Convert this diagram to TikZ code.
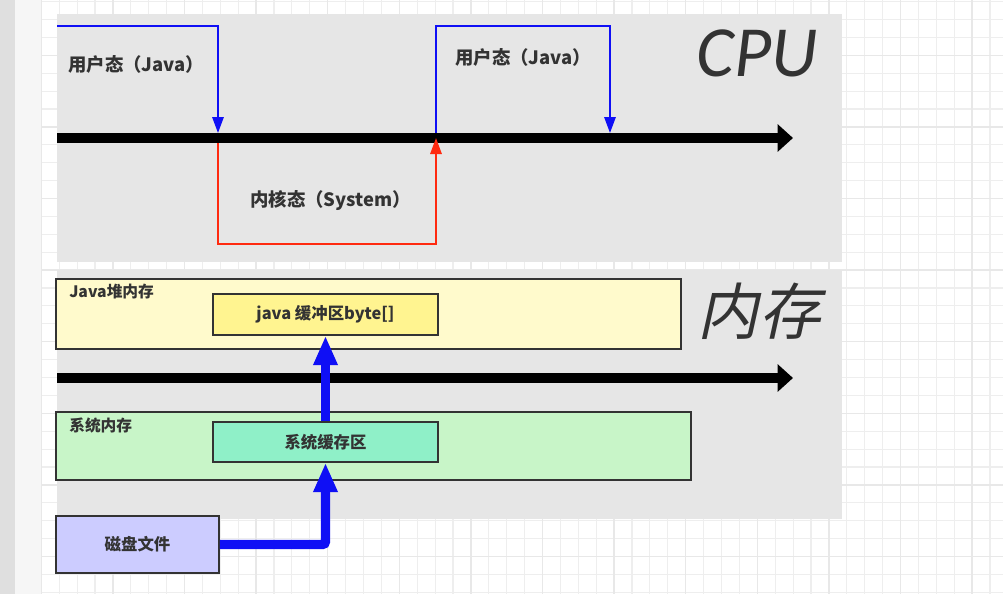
\documentclass[tikz,border=0pt]{standalone}
\usepackage{fontspec}
\setmainfont{Noto Sans CJK SC}
\newfontfamily\cpufont{Carlito}
\newfontfamily\memfont[FakeSlant=0.22]{Noto Sans CJK SC}
\usetikzlibrary{arrows.meta}
\definecolor{txt}{HTML}{333333}
\definecolor{panelgray}{HTML}{E6E6E6}
\definecolor{stripgray}{HTML}{DFDFDF}
\definecolor{stripwhite}{HTML}{F6F6F6}
\definecolor{gridminor}{HTML}{EEEEEE}
\definecolor{gridmajor}{HTML}{E8E8E8}
\definecolor{heapfill}{HTML}{FFFACC}
\definecolor{jbuffill}{HTML}{FFF490}
\definecolor{sysmemfill}{HTML}{C8F5C8}
\definecolor{sysbuffill}{HTML}{8FF0C8}
\definecolor{diskfill}{HTML}{CCCCFF}
\definecolor{userblue}{HTML}{0F0FF5}
\definecolor{kernred}{HTML}{FF2A10}
\definecolor{boxline}{HTML}{333333}
\tikzset{
  box/.style={draw=boxline, line width=1.2pt, inner sep=0pt, text=txt,
    font=\bfseries\fontsize{12.3}{14}\selectfont},
  cornerlabel/.style={anchor=west, inner sep=0pt, text=txt,
    font=\bfseries\fontsize{11.8}{14}\selectfont},
  statelabel/.style={anchor=west, inner sep=0pt, text=txt,
    font=\bfseries\fontsize{13.8}{16}\selectfont},
  timeaxis/.style={line width=7pt, black, -{Triangle[length=11.5pt,width=20pt]}},
  userpath/.style={line width=1.5pt, userblue, -{Triangle[length=12pt,width=8.5pt]}},
  kernpath/.style={line width=1.5pt, kernred, -{Triangle[length=12pt,width=8.5pt]}},
  flow/.style={line width=6.8pt, userblue, rounded corners=2pt, -{Triangle[length=22pt,width=17pt]}},
}
\begin{document}
\begin{tikzpicture}[x=0.75pt,y=-0.75pt]
\useasboundingbox (0,0) rectangle (1003,594);
% background and grid
\fill[white] (0,0) rectangle (1003,594);
\fill[stripwhite] (15,0) rectangle (41,594);
\fill[stripgray] (0,0) rectangle (15,594);
\foreach \i in {0,...,53} \draw[gridminor, line width=0.8pt] ({41.3+17.9*\i},0) -- ({41.3+17.9*\i},594);
\foreach \j in {0,...,33} \draw[gridminor, line width=0.8pt] (41,{1.6+17.9*\j}) -- (1003,{1.6+17.9*\j});
\foreach \i in {0,...,13} \draw[gridmajor, line width=1pt] ({41.3+71.6*\i},0) -- ({41.3+71.6*\i},594);
\foreach \j in {0,...,7} \draw[gridmajor, line width=1pt] (41,{55.3+71.6*\j}) -- (1003,{55.3+71.6*\j});
% panels
\fill[panelgray] (57,14) rectangle (842,262);
\fill[panelgray] (57,270) rectangle (842,519);

% ---------------- CPU panel ----------------
\coordinate (u1s) at (57,26);
\coordinate (sw1top) at (218,133);
\coordinate (sw1bot) at (218,143);
\coordinate (sw2top) at (436,133);
\coordinate (sw2mid) at (436,138);
\coordinate (sw3top) at (610,133);
\coordinate (kbot) at (218,244);
\coordinate (kbot2) at (436,244);
\coordinate (utop2) at (436,26);
\coordinate (axL) at (57,138);
\coordinate (axR) at (793,138);
\coordinate (axL2) at (57,378);
\coordinate (axR2) at (793,378);

\draw[timeaxis] (axL) -- (axR);
\draw[userpath] (u1s) -| (sw1top);
\draw[kernpath] (sw1bot) -- (kbot) -- (kbot2) -- (sw2mid);
\draw[userpath] (sw2top) -- (utop2) -| (sw3top);

\node[statelabel] (user1) at (68,64) {用户态（Java）};
\node[statelabel] (user2) at (455,57) {用户态（Java）};
\node[statelabel] (kern) at (250,201) {内核态（System）};
\node[text=txt, inner sep=0pt, font=\cpufont\itshape\fontsize{54}{60}\selectfont] (cpulabel) at (757,53) {CPU};

% ---------------- Memory panel ----------------
\node[box, fill=heapfill, minimum width=468.75pt, minimum height=52.5pt] (heap) at (368.5,314) {};
\node[cornerlabel] (heaplabel) at (69,292) {Java堆内存};
\node[box, fill=jbuffill, minimum width=168.75pt, minimum height=30.75pt] (jbuf) at (325.5,314.5) {java 缓冲区byte[]};

\draw[timeaxis] (axL2) -- (axR2);

\node[box, fill=sysmemfill, minimum width=476.25pt, minimum height=51pt] (sysmem) at (373.5,446) {};
\node[cornerlabel] (sysmemlabel) at (69,425) {系统内存};
\node[box, fill=sysbuffill, minimum width=168.75pt, minimum height=30pt] (sysbuf) at (325.5,442) {系统缓存区};

\node[box, fill=diskfill, minimum width=122.25pt, minimum height=42.75pt] (disk) at (137.5,544.5) {磁盘文件};

\draw[flow] (disk.east) -| (sysbuf.south);
\draw[flow] (sysbuf.north) -- (jbuf.south);

\node[text=txt, inner sep=0pt, font=\memfont\fontsize{46}{50}\selectfont] (memlabel) at (759,311) {内存};
\end{tikzpicture}
\end{document}
